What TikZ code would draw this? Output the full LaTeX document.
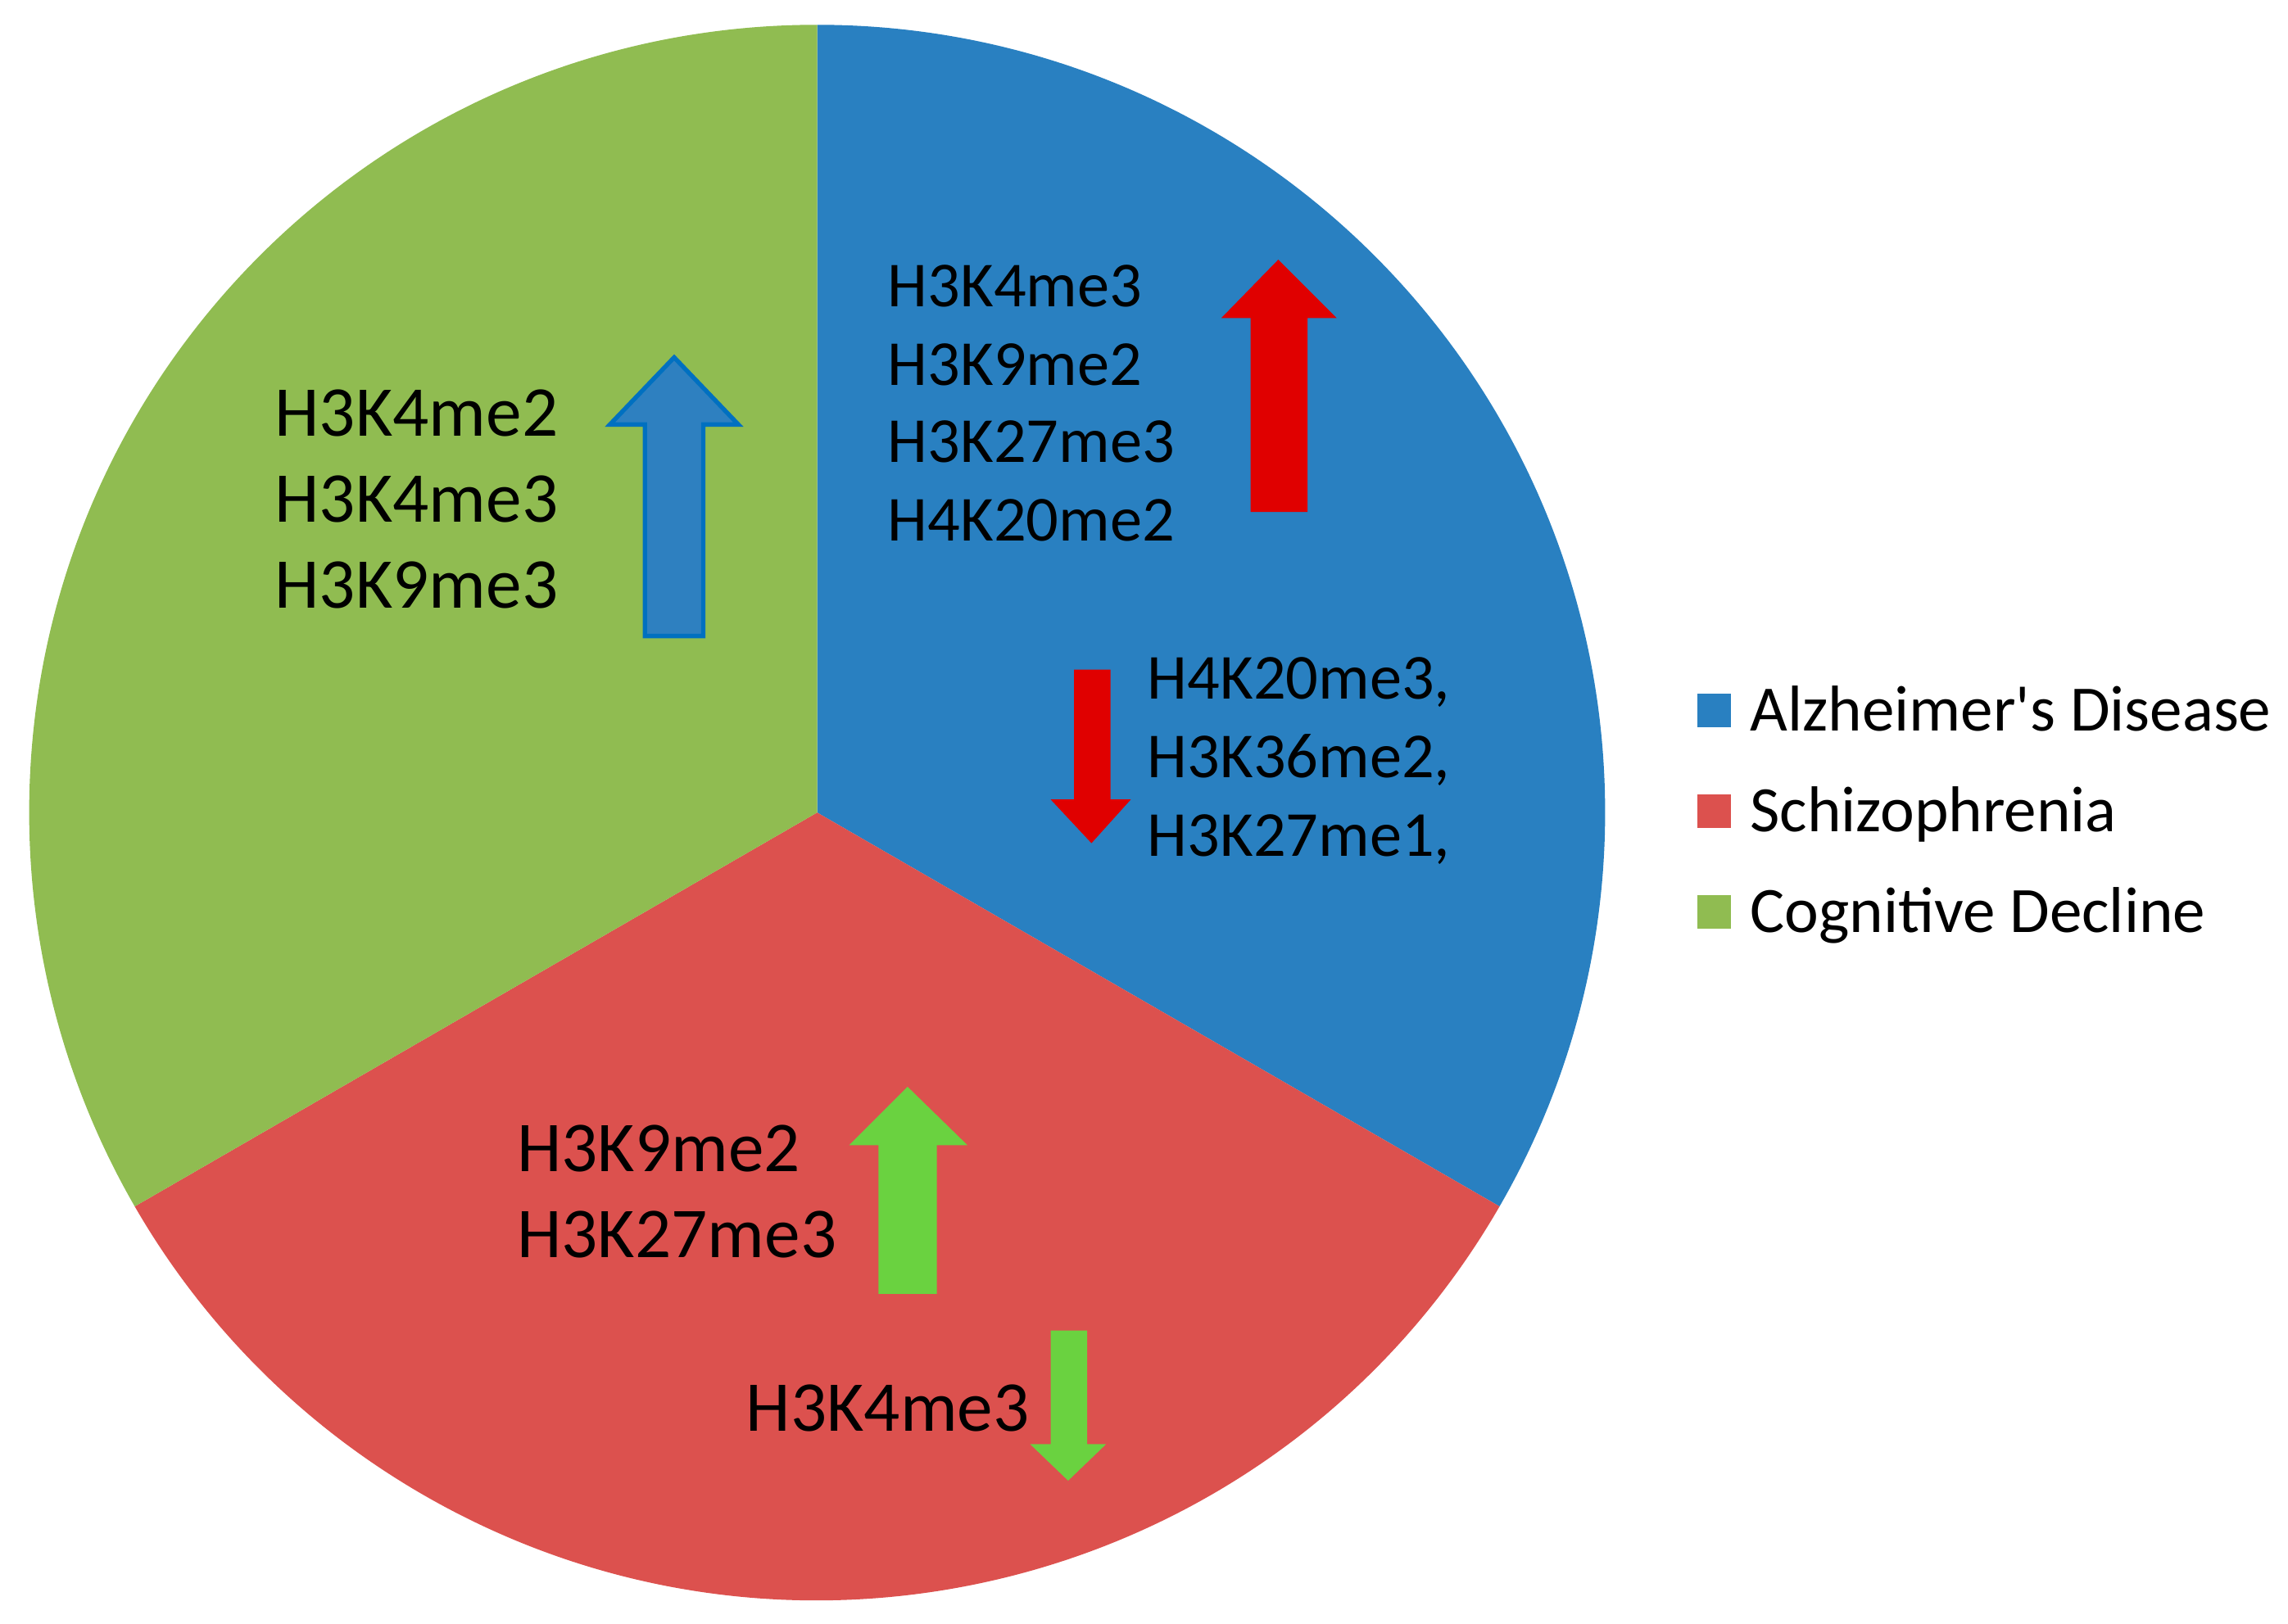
\documentclass[tikz,border=0pt]{standalone}
\usepackage{fontspec}
\setmainfont{Carlito}[Ligatures=TeXOff]
\definecolor{pieblue}{RGB}{41,128,193}
\definecolor{piered}{RGB}{220,81,78}
\definecolor{piegreen}{RGB}{144,188,81}
\definecolor{arrred}{RGB}{224,0,0}
\definecolor{arrgreen}{RGB}{106,210,64}
\definecolor{arrblueline}{RGB}{0,112,192}
\definecolor{arrbluefill}{RGB}{46,128,192}
\tikzset{
  bigtxt/.style={anchor=base west, inner sep=0pt, font=\fontsize{24.5}{29}\selectfont},
  midtxt/.style={anchor=base west, inner sep=0pt, font=\fontsize{22}{27}\selectfont},
  legtxt/.style={anchor=base west, inner sep=0pt, font=\fontsize{22.2}{27}\selectfont},
  legbox/.style={minimum size=11.5pt, inner sep=0pt, anchor=center}
}
\begin{document}
\begin{tikzpicture}[x=0.5pt,y=-0.5pt]
\useasboundingbox (0,0) rectangle (1568,1113);
\fill[white] (0,0) rectangle (1568,1113);
% pie
\begin{scope}[shift={(560,557)}, yscale=-1]
  \fill[pieblue] (0,0) -- (90:540) arc[start angle=90, end angle=-30, radius=540] -- cycle;
  \fill[piered] (0,0) -- (-30:540) arc[start angle=-30, end angle=-150, radius=540] -- cycle;
  \fill[piegreen] (0,0) -- (90:540) arc[start angle=90, end angle=210, radius=540] -- cycle;
\end{scope}
% arrows
\filldraw[fill=arrbluefill, draw=arrblueline, line width=1.5pt, line join=miter]
  (442,436) -- (442,291) -- (418,291) -- (462,245) -- (506,291) -- (482,291) -- (482,436) -- cycle;
\fill[arrred] (857,351) -- (857,218) -- (837,218) -- (876,178) -- (916,218) -- (896,218) -- (896,351) -- cycle;
\fill[arrred] (736,459) -- (761,459) -- (761,548) -- (775,548) -- (748,578) -- (720,548) -- (736,548) -- cycle;
\fill[arrgreen] (602,887) -- (602,785) -- (582,785) -- (622,745) -- (663,785) -- (642,785) -- (642,887) -- cycle;
\fill[arrgreen] (720,912) -- (745,912) -- (745,990) -- (758,990) -- (732,1015) -- (706,990) -- (720,990) -- cycle;
% green slice text
\node[bigtxt] (g1) at (188,299) {H3K4me2};
\node[bigtxt] (g2) at (188,358) {H3K4me3};
\node[bigtxt] (g3) at (188,417) {H3K9me3};
% blue slice text
\node[midtxt] (b1) at (608,210) {H3K4me3};
\node[midtxt] (b2) at (608,264) {H3K9me2};
\node[midtxt] (b3) at (608,317) {H3K27me3};
\node[midtxt] (b4) at (608,371) {H4K20me2};
\node[midtxt] (b5) at (786,479) {H4K20me3,};
\node[midtxt] (b6) at (786,533) {H3K36me2,};
\node[midtxt] (b7) at (786,587) {H3K27me1,};
% red slice text
\node[bigtxt] (r1) at (354,803) {H3K9me2};
\node[bigtxt] (r2) at (354,862) {H3K27me3};
\node[bigtxt] (r3) at (511,981) {H3K4me3};
% legend
\node[legbox, fill=pieblue] (lb1) at (1174.5,487) {};
\node[legbox, fill=piered] (lb2) at (1174.5,556) {};
\node[legbox, fill=piegreen] (lb3) at (1174.5,625) {};
\node[legtxt] (l1) at (1199,501) {Alzheimer's Disease};
\node[legtxt] (l2) at (1199,570) {Schizophrenia};
\node[legtxt] (l3) at (1199,639) {Cognitive Decline};
\end{tikzpicture}
\end{document}
